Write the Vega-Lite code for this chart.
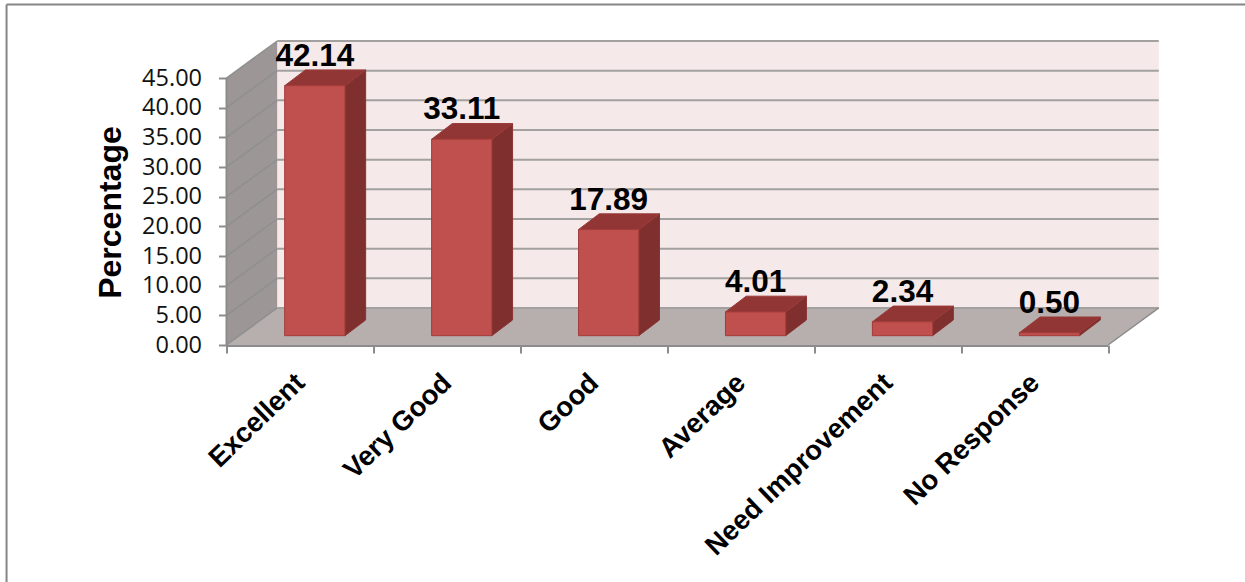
{
"$schema":"https://vega.github.io/schema/vega-lite/v6.json",
"width":933,"height":304,
"autosize":{"type":"none"},
"padding":{"left":226.5,"top":41,"right":85.5,"bottom":237},
"background":"white",
"config":{"view":{"stroke":null},"font":"Liberation Sans"},
"datasets":{
"scores":[
{"category":"Excellent","percentage":42.14},
{"category":"Very Good","percentage":33.11},
{"category":"Good","percentage":17.89},
{"category":"Average","percentage":4.01},
{"category":"Need Improvement","percentage":2.34},
{"category":"No Response","percentage":0.50}],
"levels":[{"level":0},{"level":5},{"level":10},{"level":15},{"level":20},{"level":25},{"level":30},{"level":35},{"level":40},{"level":45}],
"plane":[{"t":0},{"t":1}],
"one":[{"t":0}]
},
"layer":[
{"data":{"name":"one"},"mark":{"type":"rect","fill":"#F5E9E9"},
 "encoding":{
  "x":{"datum":0.345,"type":"quantitative","scale":{"domain":[0,6.35]},"axis":{"values":[0,1,2,3,4,5,6],"labels":false,"domain":false,"grid":false,"ticks":true,"tickSize":8,"tickColor":"#8C8C8C","tickWidth":2,"title":null}},
  "x2":{"datum":6.345},
  "y":{"datum":6.24,"type":"quantitative","scale":{"domain":[0,51.24]},"axis":{"values":[0,5,10,15,20,25,30,35,40,45],"format":".2f","domain":false,"grid":false,"tickSize":8,"tickColor":"#8C8C8C","tickWidth":2,"labelFont":"Open Sans","labelFontSize":23.5,"labelColor":"#111111","labelPadding":17,"labelOverlap":false,"labelBound":false,"title":"Percentage","titleFont":"Liberation Sans","titleFontSize":32,"titleFontWeight":"bold","titleColor":"#000000","titleX":-99.5,"titleY":171}},
  "y2":{"datum":51.24}}},
{"data":{"name":"plane"},
 "transform":[{"calculate":"datum.t*0.345","as":"px"},{"calculate":"datum.t*6.24","as":"py"},{"calculate":"45+datum.t*6.24","as":"py2"}],
 "mark":{"type":"area","fill":"#9C9696","line":false},
 "encoding":{"x":{"field":"px","type":"quantitative","scale":{"domain":[0,6.35]},"axis":{"values":[0,1,2,3,4,5,6]}},
  "y":{"field":"py","type":"quantitative","scale":{"domain":[0,51.24]},"axis":{"values":[0,5,10,15,20,25,30,35,40,45]}},"y2":{"field":"py2"}}},
{"data":{"name":"plane"},
 "transform":[{"calculate":"datum.t*0.345","as":"px"},{"calculate":"6+datum.t*0.345","as":"px2"},{"calculate":"datum.t*6.24","as":"py"}],
 "mark":{"type":"area","orient":"horizontal","fill":"#B7AEAE","line":false},
 "encoding":{"y":{"field":"py","type":"quantitative","scale":{"domain":[0,51.24]},"axis":{"values":[0,5,10,15,20,25,30,35,40,45]}},
  "x":{"field":"px","type":"quantitative","scale":{"domain":[0,6.35]},"axis":{"values":[0,1,2,3,4,5,6]}},"x2":{"field":"px2"}}},
{"data":{"name":"levels"},
 "transform":[{"calculate":"datum.level+6.24","as":"back"}],
 "mark":{"type":"rule","stroke":"#A3A0A0","strokeWidth":2},
 "encoding":{"x":{"datum":0.345,"type":"quantitative","scale":{"domain":[0,6.35]},"axis":{"values":[0,1,2,3,4,5,6]}},"x2":{"datum":6.345},
  "y":{"field":"back","type":"quantitative","scale":{"domain":[0,51.24]},"axis":{"values":[0,5,10,15,20,25,30,35,40,45]}}}},
{"data":{"name":"levels"},
 "transform":[{"calculate":"datum.level+6.24","as":"back"}],
 "mark":{"type":"rule","stroke":"#8F8F8F","strokeWidth":1.5},
 "encoding":{"x":{"datum":0,"type":"quantitative","scale":{"domain":[0,6.35]},"axis":{"values":[0,1,2,3,4,5,6]}},"x2":{"datum":0.345},
  "y":{"field":"level","type":"quantitative","scale":{"domain":[0,51.24]},"axis":{"values":[0,5,10,15,20,25,30,35,40,45]}},"y2":{"field":"back"}}},
{"data":{"name":"one"},"mark":{"type":"rule","stroke":"#8C8C8C","strokeWidth":2},
 "encoding":{"x":{"datum":0,"type":"quantitative","scale":{"domain":[0,6.35]},"axis":{"values":[0,1,2,3,4,5,6]}},
  "y":{"datum":0,"type":"quantitative","scale":{"domain":[0,51.24]},"axis":{"values":[0,5,10,15,20,25,30,35,40,45]}},"y2":{"datum":45}}},
{"data":{"name":"one"},"mark":{"type":"rule","stroke":"#8C8C8C","strokeWidth":2,"yOffset":1},
 "encoding":{"y":{"datum":0,"type":"quantitative","scale":{"domain":[0,51.24]},"axis":{"values":[0,5,10,15,20,25,30,35,40,45]}},
  "x":{"datum":0,"type":"quantitative","scale":{"domain":[0,6.35]},"axis":{"values":[0,1,2,3,4,5,6]}},"x2":{"datum":6}}},
{"data":{"name":"one"},"mark":{"type":"rule","stroke":"#8C8C8C","strokeWidth":1.5},
 "encoding":{"x":{"datum":6,"type":"quantitative","scale":{"domain":[0,6.35]},"axis":{"values":[0,1,2,3,4,5,6]}},"x2":{"datum":6.345},
  "y":{"datum":0,"type":"quantitative","scale":{"domain":[0,51.24]},"axis":{"values":[0,5,10,15,20,25,30,35,40,45]}},"y2":{"datum":6.24}}},
{"data":{"name":"one"},"mark":{"type":"rule","stroke":"#858585","strokeWidth":2},
 "encoding":{"x":{"datum":-1.497,"type":"quantitative","scale":{"domain":[0,6.35]},"axis":{"values":[0,1,2,3,4,5,6]}},"x2":{"datum":6.94},
  "y":{"datum":57.4,"type":"quantitative","scale":{"domain":[0,51.24]},"axis":{"values":[0,5,10,15,20,25,30,35,40,45]}}}},
{"data":{"name":"one"},"mark":{"type":"rule","stroke":"#858585","strokeWidth":2},
 "encoding":{"x":{"datum":-1.497,"type":"quantitative","scale":{"domain":[0,6.35]},"axis":{"values":[0,1,2,3,4,5,6]}},
  "y":{"datum":57.4,"type":"quantitative","scale":{"domain":[0,51.24]},"axis":{"values":[0,5,10,15,20,25,30,35,40,45]}},"y2":{"datum":-40}}},
{"data":{"name":"scores"},
 "transform":[{"window":[{"op":"row_number","as":"n"}]},{"calculate":"[0,1]","as":"t"},{"flatten":["t"]},
  {"calculate":"datum.n-1+0.806+datum.t*0.141","as":"sx"},{"calculate":"datum.percentage+1.57+datum.t*2.65","as":"sy"},{"calculate":"1.57+datum.t*2.65","as":"sy2"}],
 "mark":{"type":"area","fill":"#7F2F2E","stroke":"#8A3432","strokeWidth":1,"line":false},
 "encoding":{"x":{"field":"sx","type":"quantitative","scale":{"domain":[0,6.35]},"axis":{"values":[0,1,2,3,4,5,6]}},
  "y":{"field":"sy","type":"quantitative","scale":{"domain":[0,51.24]},"axis":{"values":[0,5,10,15,20,25,30,35,40,45]}},"y2":{"field":"sy2"},
  "detail":{"field":"category"}}},
{"data":{"name":"scores"},
 "transform":[{"window":[{"op":"row_number","as":"n"}]},{"calculate":"[0,1]","as":"t"},{"flatten":["t"]},
  {"calculate":"datum.n-1+0.396+datum.t*0.141","as":"tx"},{"calculate":"datum.n-1+0.806+datum.t*0.141","as":"tx2"},{"calculate":"datum.percentage+1.57+datum.t*2.65","as":"ty"}],
 "mark":{"type":"area","orient":"horizontal","fill":"#913634","stroke":"#9B3B39","strokeWidth":1,"line":false},
 "encoding":{"y":{"field":"ty","type":"quantitative","scale":{"domain":[0,51.24]},"axis":{"values":[0,5,10,15,20,25,30,35,40,45]}},
  "x":{"field":"tx","type":"quantitative","scale":{"domain":[0,6.35]},"axis":{"values":[0,1,2,3,4,5,6]}},"x2":{"field":"tx2"},
  "detail":{"field":"category"}}},
{"data":{"name":"scores"},
 "transform":[{"window":[{"op":"row_number","as":"n"}]},
  {"calculate":"datum.n-1+0.396","as":"fx"},{"calculate":"datum.n-1+0.806","as":"fx2"},{"calculate":"datum.percentage+1.57","as":"fy"},{"calculate":"1.57","as":"fy2"}],
 "mark":{"type":"bar","fill":"#C0504D","stroke":"#A23C3A","strokeWidth":1},
 "encoding":{"x":{"field":"fx","type":"quantitative","scale":{"domain":[0,6.35]},"axis":{"values":[0,1,2,3,4,5,6]}},"x2":{"field":"fx2"},
  "y":{"field":"fy","type":"quantitative","scale":{"domain":[0,51.24]},"axis":{"values":[0,5,10,15,20,25,30,35,40,45]}},"y2":{"field":"fy2"}}},
{"data":{"name":"scores"},
 "transform":[{"window":[{"op":"row_number","as":"n"}]},
  {"calculate":"datum.n-1+0.601","as":"lx"},{"calculate":"datum.percentage+1.57","as":"ly"}],
 "mark":{"type":"text","font":"Liberation Sans","fontWeight":"bold","fontSize":31.5,"fill":"#000000","align":"center","baseline":"alphabetic","yOffset":-20},
 "encoding":{"x":{"field":"lx","type":"quantitative","scale":{"domain":[0,6.35]},"axis":{"values":[0,1,2,3,4,5,6]}},
  "y":{"field":"ly","type":"quantitative","scale":{"domain":[0,51.24]},"axis":{"values":[0,5,10,15,20,25,30,35,40,45]}},
  "text":{"field":"percentage","type":"quantitative","format":".2f"}}},
{"data":{"name":"scores"},
 "transform":[{"window":[{"op":"row_number","as":"n"}]},{"calculate":"datum.n-1+0.505","as":"cx"},{"calculate":"0","as":"cy"}],
 "mark":{"type":"text","font":"Liberation Sans","fontWeight":"bold","fontSize":27.5,"fill":"#000000","align":"right","baseline":"middle","angle":316,"yOffset":34},
 "encoding":{"x":{"field":"cx","type":"quantitative","scale":{"domain":[0,6.35]},"axis":{"values":[0,1,2,3,4,5,6]}},
  "y":{"field":"cy","type":"quantitative","scale":{"domain":[0,51.24]},"axis":{"values":[0,5,10,15,20,25,30,35,40,45]}},
  "text":{"field":"category","type":"nominal"}}}
]
}
